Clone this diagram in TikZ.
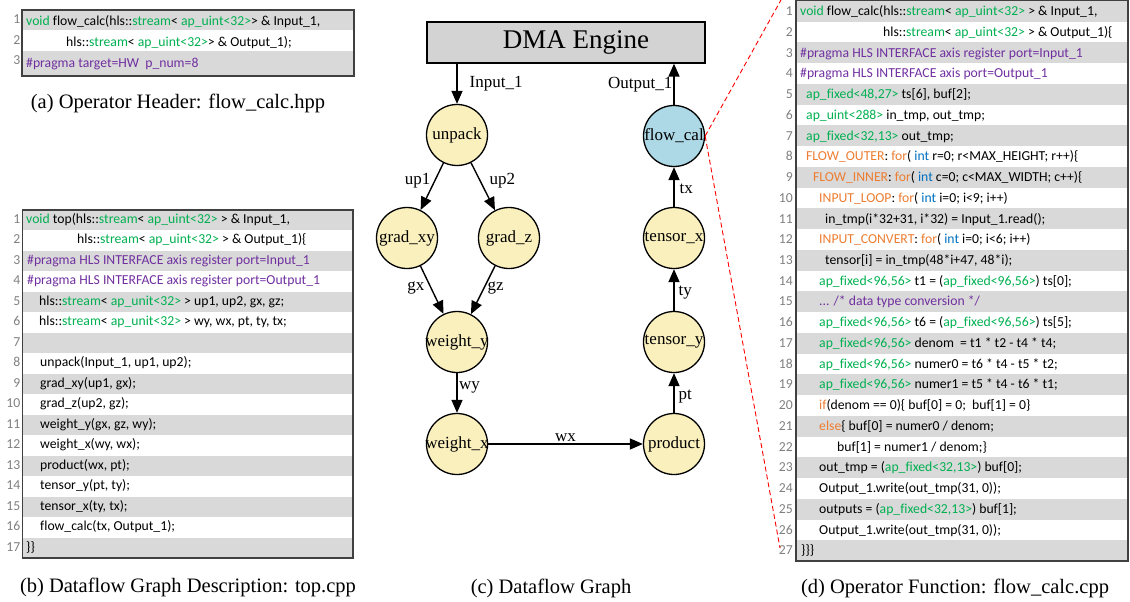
\documentclass[tikz,border=0pt]{standalone}
\usepackage{fontspec}
\setmainfont{Liberation Serif}
\newfontfamily\codefamily{Carlito}[Ligatures=NoCommon]
\usetikzlibrary{arrows.meta}

\definecolor{typegreen}{HTML}{00B050}
\definecolor{pragmapurple}{HTML}{7030A0}
\definecolor{labelorange}{HTML}{ED7D31}
\definecolor{intblue}{HTML}{0070C0}
\definecolor{rowgray}{HTML}{D9D9D9}
\definecolor{numgray}{HTML}{808080}
\definecolor{framegray}{HTML}{404040}
\definecolor{opyellow}{HTML}{FAF0BE}
\definecolor{opblue}{HTML}{ADD8E6}
\definecolor{dmagray}{HTML}{D3D3D3}

% syntax colouring helpers
\newcommand\tG[1]{\textcolor{typegreen}{#1}}
\newcommand\tP[1]{\textcolor{pragmapurple}{#1}}
\newcommand\tO[1]{\textcolor{labelorange}{#1}}
\newcommand\tB[1]{\textcolor{intblue}{#1}}
\newcommand\opname[1]{\makebox[0pt]{#1}}
% one code line: name, x, row index, text (uses \ctop and \crow)
\newcommand\codeln[4]{\node[codeline] (#1) at (#2,{\ctop+(#3-0.5)*\crow}) {#4};}

\begin{document}
\begin{tikzpicture}[x=1pt,y=-1pt,
  codefont/.style={font=\codefamily\fontsize{13.7}{16}\selectfont},
  codeline/.style={codefont, anchor=west, inner sep=0pt, text height=9.5pt, text depth=3pt},
  lnum/.style={codefont, anchor=east, inner sep=0pt, text=numgray, text height=9.5pt, text depth=3pt},
  codeframe/.style={draw=framegray, line width=1.1pt},
  op/.style={circle, draw, line width=1.3pt, fill=opyellow, minimum size=61pt, inner sep=0pt,
    font=\fontsize{17}{20}\selectfont},
  flow/.style={-{Triangle[length=13pt,width=11pt]}, line width=1.4pt},
  elabel/.style={font=\fontsize{17}{20}\selectfont, inner sep=2pt},
  caption/.style={font=\fontsize{20.5}{24}\selectfont},
  zoomline/.style={red, line width=0.9pt, dash pattern=on 5pt off 3pt}]
\useasboundingbox (0,0) rectangle (1130,602);

% ---------- (a) operator header ----------
\fill[rowgray] (22,10) rectangle (354,30.5);
\fill[rowgray] (22,51) rectangle (354,76);
\draw[codeframe] (22,10) rectangle (354,76);
\def\ctop{12.5}\def\crow{20.5}
\foreach \i in {1,2,3} \node[lnum] (an\i) at (20.5,{\ctop-2+(\i-0.5)*\crow}) {\i};
\codeln{a1}{26}{1}{\tG{void} flow\_calc(hls::\tG{stream}< \tG{ap\_uint<32>}> \& Input\_1,}
\codeln{a2}{66}{2}{hls::\tG{stream}< \tG{ap\_uint<32>}> \& Output\_1);}
\codeln{a3}{26}{3}{\tP{\#pragma target=HW\ \ p\_num=8}}
\node[caption] (capa) at (178,103) {(a) Operator Header: flow\_calc.hpp};

% ---------- (b) dataflow graph description ----------
\def\ctop{210}\def\crow{20.47}
\foreach \i in {1,3,...,17} \fill[rowgray] (22.5,{\ctop+(\i-1)*\crow}) rectangle (353,{\ctop+\i*\crow});
\draw[codeframe] (22.5,210) rectangle (353,558);
\foreach \i in {1,...,17} \node[lnum] (bn\i) at (20.5,{\ctop+(\i-0.5)*\crow}) {\i};
\codeln{b1}{26}{1}{\tG{void} top(hls::\tG{stream}< \tG{ap\_uint<32>} > \& Input\_1,}
\codeln{b2}{77}{2}{hls::\tG{stream}< \tG{ap\_uint<32>} > \& Output\_1)\{}
\codeln{b3}{27}{3}{\tP{\#pragma HLS INTERFACE axis register port=Input\_1}}
\codeln{b4}{27}{4}{\tP{\#pragma HLS INTERFACE axis register port=Output\_1}}
\codeln{b5}{39}{5}{hls::\tG{stream}< \tG{ap\_unit<32>} > up1, up2, gx, gz;}
\codeln{b6}{39}{6}{hls::\tG{stream}< \tG{ap\_unit<32>} > wy, wx, pt, ty, tx;}
\codeln{b8}{40}{8}{unpack(Input\_1, up1, up2);}
\codeln{b9}{40}{9}{grad\_xy(up1, gx);}
\codeln{b10}{40}{10}{grad\_z(up2, gz);}
\codeln{b11}{40}{11}{weight\_y(gx, gz, wy);}
\codeln{b12}{40}{12}{weight\_x(wy, wx);}
\codeln{b13}{40}{13}{product(wx, pt);}
\codeln{b14}{40}{14}{tensor\_y(pt, ty);}
\codeln{b15}{40}{15}{tensor\_x(ty, tx);}
\codeln{b16}{40}{16}{flow\_calc(tx, Output\_1);}
\codeln{b17}{26}{17}{\}\}}
\node[caption] (capb) at (188,587) {(b) Dataflow Graph Description: top.cpp};

% ---------- (c) dataflow graph ----------
\node[draw, line width=1.3pt, fill=dmagray, minimum width=278pt, minimum height=41pt,
  inner sep=0pt, font=\fontsize{27}{32}\selectfont] (dma) at (566,42.5) {\hspace*{20pt}DMA Engine};
\node[op] (un) at (457,135) {\opname{unpack}};
\node[op] (gxy) at (407,238) {\opname{grad\_xy}};
\node[op] (gz) at (509,238) {\opname{grad\_z}};
\node[op] (wty) at (457,342) {\opname{weight\_y}};
\node[op] (wtx) at (457,444) {\opname{weight\_x}};
\node[op] (prod) at (674,444) {\opname{product}};
\node[op] (tny) at (674,342) {\opname{tensor\_y}};
\node[op] (tnx) at (674,238) {\opname{tensor\_x}};
\node[op, fill=opblue] (fc) at (674,136) {\opname{flow\_cal}};

\draw[flow] (dma.south -| un.north) -- node[elabel, right, xshift=10pt] {Input\_1} (un);
\draw[flow] (fc) -- node[elabel, left, inner sep=1pt] {Output\_1} (dma.south -| fc.north);
\draw[flow] (un) -- node[elabel, left, pos=0.37, inner sep=4pt] {up1} (gxy);
\draw[flow] (un) -- node[elabel, right, pos=0.37, inner sep=9pt] {up2} (gz);
\draw[flow] (gxy) -- node[elabel, left, pos=0.46, inner sep=6pt] {gx} (wty);
\draw[flow] (gz) -- node[elabel, right, pos=0.46, inner sep=3pt] {gz} (wty);
\draw[flow] (wty) -- node[elabel, right, pos=0.35, inner sep=1.5pt] {wy} (wtx);
\draw[flow] (wtx) -- node[elabel, above, pos=0.5, inner sep=2pt] {wx} (prod);
\draw[flow] (prod) -- node[elabel, right, pos=0.4, inner sep=4pt] {pt} (tny);
\draw[flow] (tny) -- node[elabel, right, pos=0.45, inner sep=4pt] {ty} (tnx);
\draw[flow] (tnx) -- node[elabel, right, pos=0.45, inner sep=5pt] {tx} (fc);
\node[caption] (capc) at (551,588) {(c) Dataflow Graph};

% ---------- (d) operator function ----------
\def\ctop{1}\def\crow{20.74}
\foreach \i in {1,3,...,27} \fill[rowgray] (796,{\ctop+(\i-1)*\crow}) rectangle (1128,{\ctop+\i*\crow});
\draw[codeframe] (796,0.6) rectangle (1128,561);
\foreach \i in {1,...,27} \node[lnum] (dn\i) at (793,{\ctop+1+(\i-0.5)*\crow}) {\i};
\def\ctop{2}
\codeln{d1}{800}{1}{\tG{void} flow\_calc(hls::\tG{stream}< \tG{ap\_uint<32>} > \& Input\_1,}
\codeln{d2}{883}{2}{hls::\tG{stream}< \tG{ap\_uint<32>} > \& Output\_1)\{}
\codeln{d3}{800}{3}{\tP{\#pragma HLS INTERFACE axis register port=Input\_1}}
\codeln{d4}{800}{4}{\tP{\#pragma HLS INTERFACE axis port=Output\_1}}
\codeln{d5}{806}{5}{\tG{ap\_fixed<48,27>} ts[6], buf[2];}
\codeln{d6}{806}{6}{\tG{ap\_uint<288>} in\_tmp, out\_tmp;}
\codeln{d7}{806}{7}{\tG{ap\_fixed<32,13>} out\_tmp;}
\codeln{d8}{806}{8}{\tO{FLOW\_OUTER}: \tO{for}( \tB{int} r=0; r<MAX\_HEIGHT; r++)\{}
\codeln{d9}{813}{9}{\tO{FLOW\_INNER}: \tO{for}( \tB{int} c=0; c<MAX\_WIDTH; c++)\{}
\codeln{d10}{819}{10}{\tO{INPUT\_LOOP}: \tO{for}( \tB{int} i=0; i<9; i++)}
\codeln{d11}{825}{11}{in\_tmp(i*32+31, i*32) = Input\_1.read();}
\codeln{d12}{819}{12}{\tO{INPUT\_CONVERT}: \tO{for}( \tB{int} i=0; i<6; i++)}
\codeln{d13}{825}{13}{tensor[i] = in\_tmp(48*i+47, 48*i);}
\codeln{d14}{819}{14}{\tG{ap\_fixed<96,56>} t1 = (\tG{ap\_fixed<96,56>}) ts[0];}
\codeln{d15}{819}{15}{\tP{... /* data type conversion */}}
\codeln{d16}{819}{16}{\tG{ap\_fixed<96,56>} t6 = (\tG{ap\_fixed<96,56>}) ts[5];}
\codeln{d17}{819}{17}{\tG{ap\_fixed<96,56>} denom\ \ = t1 * t2 - t4 * t4;}
\codeln{d18}{819}{18}{\tG{ap\_fixed<96,56>} numer0 = t6 * t4 - t5 * t2;}
\codeln{d19}{819}{19}{\tG{ap\_fixed<96,56>} numer1 = t5 * t4 - t6 * t1;}
\codeln{d20}{819}{20}{\tO{if}(denom == 0)\{ buf[0] = 0;\ \ buf[1] = 0\}}
\codeln{d21}{819}{21}{\tO{else}\{ buf[0] = numer0 / denom;}
\codeln{d22}{837}{22}{buf[1] = numer1 / denom;\}}
\codeln{d23}{819}{23}{out\_tmp = (\tG{ap\_fixed<32,13>}) buf[0];}
\codeln{d24}{819}{24}{Output\_1.write(out\_tmp(31, 0));}
\codeln{d25}{819}{25}{outputs = (\tG{ap\_fixed<32,13>}) buf[1];}
\codeln{d26}{819}{26}{Output\_1.write(out\_tmp(31, 0));}
\codeln{d27}{801}{27}{\}\}\}}
\node[caption] (capd) at (955,588) {(d) Operator Function: flow\_calc.cpp};

% zoom-in guides from the highlighted operator to its source
\coordinate (ztop) at (781,0);
\coordinate (zbot) at (780,548);
\draw[zoomline] (fc.east) -- (ztop);
\draw[zoomline] (fc.east) -- (zbot);
\end{tikzpicture}
\end{document}
